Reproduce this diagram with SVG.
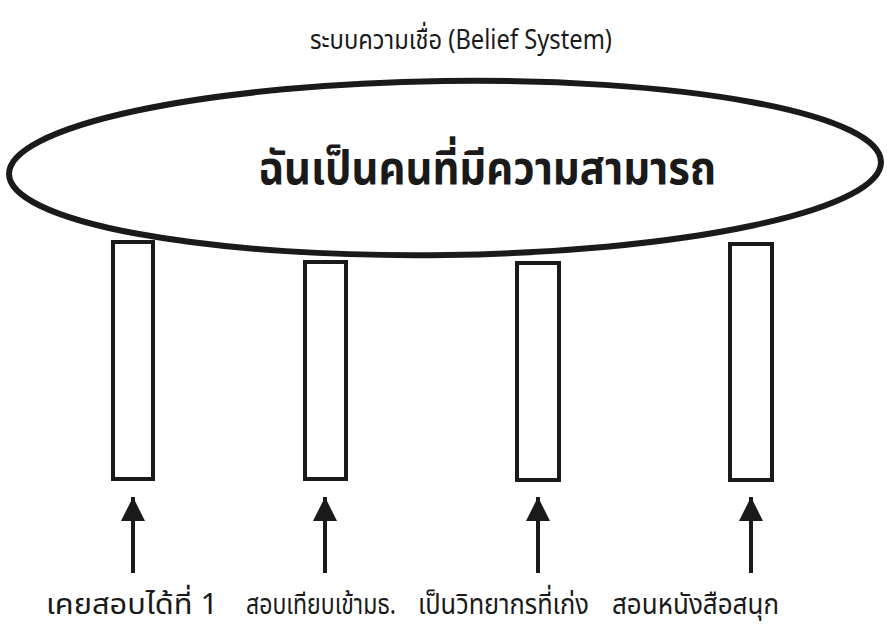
<svg xmlns="http://www.w3.org/2000/svg" width="887" height="628" viewBox="0 0 887 628">
<style>
.t{font-family:"Noto Sans Thai","Noto Sans","Liberation Sans",sans-serif;fill:#1a1a1a}
.lbl{font-size:29px}
.bar{fill:#fff;stroke:#1a1a1a;stroke-width:4}
.shaft{stroke:#1a1a1a;stroke-width:4}
</style>
<defs>
<marker id="ah" viewBox="0 0 10 10" refX="10" refY="5" markerWidth="6.25" markerHeight="6" markerUnits="strokeWidth" orient="auto">
<path d="M0,0 L10,5 L0,10 Z" fill="#1a1a1a"/>
</marker>
</defs>
<rect width="887" height="628" fill="#fff"/>
<text class="t" x="310" y="49" font-size="27" textLength="302" lengthAdjust="spacingAndGlyphs">ระบบความเชื่อ (Belief System)</text>
<g id="belief">
<ellipse cx="445" cy="168" rx="436" ry="87" fill="#fff" stroke="#1a1a1a" stroke-width="6" transform="rotate(-0.8 445 168)"/>
<text class="t" x="258" y="184" font-size="46" font-weight="bold" textLength="458" lengthAdjust="spacingAndGlyphs">ฉันเป็นคนที่มีความสามารถ</text>
</g>
<g id="pillar1"><rect class="bar" x="113" y="242" width="40" height="237"/></g>
<g id="pillar2"><rect class="bar" x="305" y="262" width="41" height="217"/></g>
<g id="pillar3"><rect class="bar" x="517" y="263" width="42" height="217"/></g>
<g id="pillar4"><rect class="bar" x="730" y="244" width="42" height="236"/></g>
<g id="connectors">
<line class="shaft" x1="133" y1="573" x2="133" y2="497" marker-end="url(#ah)"/>
<line class="shaft" x1="325" y1="573" x2="325" y2="497" marker-end="url(#ah)"/>
<line class="shaft" x1="538" y1="573" x2="538" y2="497" marker-end="url(#ah)"/>
<line class="shaft" x1="751" y1="573" x2="751" y2="497" marker-end="url(#ah)"/>
</g>
<g id="label1"><text class="t lbl" x="46" y="614" textLength="172" lengthAdjust="spacingAndGlyphs">เคยสอบได้ที่ 1</text></g>
<g id="label2"><text class="t lbl" x="246" y="614" textLength="150" lengthAdjust="spacingAndGlyphs">สอบเทียบเข้ามธ.</text></g>
<g id="label3"><text class="t lbl" x="418" y="614" textLength="171" lengthAdjust="spacingAndGlyphs">เป็นวิทยากรที่เก่ง</text></g>
<g id="label4"><text class="t lbl" x="612" y="614" textLength="167" lengthAdjust="spacingAndGlyphs">สอนหนังสือสนุก</text></g>
</svg>
